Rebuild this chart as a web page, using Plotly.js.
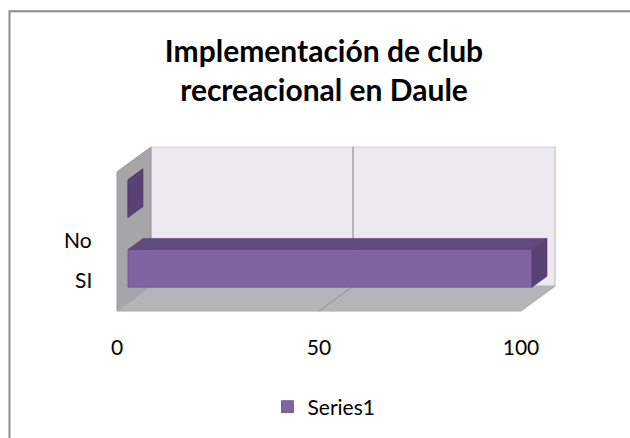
<!DOCTYPE html>
<html>
<head>
<meta charset="utf-8">
<script src="https://cdn.plot.ly/plotly-3.0.1.min.js"></script>
<style>html,body{margin:0;padding:0;background:#fff;}#chart{width:630px;height:438px;}</style>
</head>
<body>
<div id="chart"></div>
<script>
// ---- data ----
const categories = ['SI', 'No'];
const values = [100, 0];
const xTickVals = [0, 50, 100];
const xTickText = ['0', '50', '100'];
const seriesName = 'Series1';
const chartTitle = 'Implementación de club<br>recreacional en Daule';

// ---- geometry (pixels) ----
const W = 630, H = 438;
const M = {l: 112, r: 66, t: 140, b: 120};
const X0 = 128, PXX = 4.04;      // px of value 0 on bar-front plane, px per unit
const Y0 = 269, PXY = 70;        // px of category 0 centre, px per category
const xr = [(M.l - X0) / PXX, (W - M.r - X0) / PXX];
const yr = [(Y0 - (H - M.b)) / PXY, (Y0 - M.t) / PXY];
const ux = px => px / PXX;       // pixel offset -> x units
const uy = py => -py / PXY;      // pixel offset (down +) -> y units
const BW = 0.543;                // bar thickness
const FRONT = [-11, 8], BACK = [23, -17], DEPTH = [15, -11];
const yLo = -0.5, yHi = categories.length - 0.5;
const xLo = xTickVals[0], xHi = xTickVals[xTickVals.length - 1];

function pt(x, y, off) { return [x + ux(off[0]), y + uy(off[1])]; }
function path(pts) { return 'M' + pts.map(p => p[0] + ',' + p[1]).join('L') + 'Z'; }
function shp(pts, fill, line, lw) {
  return {type: 'path', xref: 'x', yref: 'y', layer: 'below', path: path(pts),
          fillcolor: fill, line: {color: line || fill, width: lw === undefined ? 0.5 : lw}};
}

const shapes = [];
// back wall
shapes.push(shp([pt(xLo, yLo, BACK), pt(xHi, yLo, BACK), pt(xHi, yHi, BACK), pt(xLo, yHi, BACK)], '#ece9f1', '#d4d2d8', 1));
// left wall
shapes.push(shp([pt(xLo, yLo, FRONT), pt(xLo, yLo, BACK), pt(xLo, yHi, BACK), pt(xLo, yHi, FRONT)], '#a6a6a9', '#9a9a9e', 1));
// floor
shapes.push(shp([pt(xLo, yLo, FRONT), pt(xHi, yLo, FRONT), pt(xHi, yLo, BACK), pt(xLo, yLo, BACK)], '#b5b5b9', '#a9a9ad', 1));
// gridlines on back wall and floor
xTickVals.slice(1).forEach(v => {
  const a = pt(v, yLo, BACK), b = pt(v, yHi, BACK), c = pt(v, yLo, FRONT);
  shapes.push({type: 'line', xref: 'x', yref: 'y', layer: 'below', x0: a[0], y0: a[1], x1: b[0], y1: b[1],
               line: {color: v === xHi ? '#c8c8cc' : '#7f7f7f', width: 1}});
  if (v !== xHi) shapes.push({type: 'line', xref: 'x', yref: 'y', layer: 'below', x0: c[0], y0: c[1], x1: a[0], y1: a[1],
               line: {color: '#8f8f93', width: 1}});
});
// outer chart border
const px2paperX = px => (px - M.l) / (W - M.l - M.r);
const px2paperY = py => (H - M.b - py) / (H - M.t - M.b);
shapes.push({type: 'rect', xref: 'paper', yref: 'paper', layer: 'below',
  x0: px2paperX(9.5), y0: px2paperY(10.5), x1: px2paperX(700), y1: px2paperY(500),
  line: {color: '#8c8c8c', width: 2}, fillcolor: 'rgba(0,0,0,0)'});

// 3D faces of bars from data
const traces = [];
const topX = [], topY = [], sideX = [], sideY = [];
categories.forEach((c, i) => {
  const v = values[i];
  const t0 = [0, i + BW / 2], t1 = [v, i + BW / 2];
  const t2 = [v + ux(DEPTH[0]), i + BW / 2 + uy(DEPTH[1])], t3 = [ux(DEPTH[0]), i + BW / 2 + uy(DEPTH[1])];
  [t0, t1, t2, t3, t0].forEach(p => { topX.push(p[0]); topY.push(p[1]); });
  topX.push(null); topY.push(null);
  const s0 = [v, i - BW / 2], s1 = [v, i + BW / 2];
  const s2 = [v + ux(DEPTH[0]), i + BW / 2 + uy(DEPTH[1])], s3 = [v + ux(DEPTH[0]), i - BW / 2 + uy(DEPTH[1])];
  [s0, s1, s2, s3, s0].forEach(p => { sideX.push(p[0]); sideY.push(p[1]); });
  sideX.push(null); sideY.push(null);
});
traces.push({type: 'bar', orientation: 'h', x: values, y: categories.map((c, i) => i), width: BW,
  name: seriesName, marker: {color: '#8064a2', line: {color: '#6a5088', width: 0.8}}, hoverinfo: 'none'});
traces.push({type: 'scatter', mode: 'lines', x: topX, y: topY, fill: 'toself', fillcolor: '#624a80',
  line: {color: '#5a4476', width: 0.6}, showlegend: false, hoverinfo: 'none'});
traces.push({type: 'scatter', mode: 'lines', x: sideX, y: sideY, fill: 'toself', fillcolor: '#574273',
  line: {color: '#4f3b69', width: 0.6}, showlegend: false, hoverinfo: 'none'});

// category labels
const catLabelY = [280, 240];
const annotations = categories.map((c, i) => ({
  text: c, xref: 'paper', yref: 'paper', x: px2paperX(94), y: px2paperY(catLabelY[i]),
  xanchor: 'right', yanchor: 'middle', showarrow: false,
  font: {family: 'Lato, sans-serif', size: 21, color: '#000'}
}));

const layout = {
  width: W, height: H, margin: M,
  paper_bgcolor: '#ffffff', plot_bgcolor: 'rgba(0,0,0,0)',
  font: {family: 'Lato, sans-serif', color: '#000'},
  title: {text: chartTitle, x: 324 / W, xanchor: 'center', y: 1 - 62 / H, yanchor: 'middle', yref: 'container',
          font: {family: 'Lato, sans-serif', size: 30, weight: 'bold', color: '#000'}},
  xaxis: {range: xr, tickvals: xTickVals, ticktext: xTickText, showgrid: false, zeroline: false,
          showline: false, ticks: '', ticklabelshift: -11, ticklabelstandoff: 16,
          tickfont: {family: 'Lato, sans-serif', size: 21, color: '#000'}, fixedrange: true},
  yaxis: {range: yr, showgrid: false, zeroline: false, showline: false, showticklabels: false, ticks: '', fixedrange: true},
  showlegend: true,
  legend: {orientation: 'h', x: px2paperX(324), xanchor: 'center', y: px2paperY(407), yanchor: 'middle',
           font: {family: 'Lato, sans-serif', size: 21, color: '#000'}, itemwidth: 30},
  shapes: shapes, annotations: annotations
};
Plotly.newPlot('chart', traces, layout, {displayModeBar: false, staticPlot: true});
</script>
</body>
</html>
